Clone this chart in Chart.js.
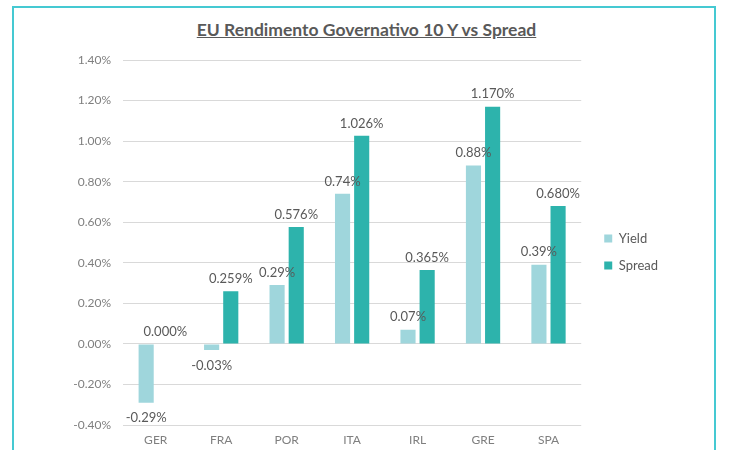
<!DOCTYPE html>
<html>
<head>
<meta charset="utf-8">
<script src="https://cdn.jsdelivr.net/npm/chart.js@4.4.0/dist/chart.umd.min.js"></script>
<style>
  body { margin: 0; background: #fff; overflow: hidden; }
  #wrap { position: relative; width: 731px; height: 450px; }
  #cornice { position: absolute; left: 12px; top: 6px; width: 700px; height: 500px; border: 2px solid #45c9d2; }
  #titolo { position: absolute; left: 0; top: 19px; width: 733px; text-align: center;
    font: bold 17.5px Lato, sans-serif; color: #595959; text-decoration: underline; }
  #box { position: absolute; left: 0; top: 0; width: 731px; height: 450px; }
</style>
</head>
<body>
<div id="wrap">
  <div id="cornice"></div>
  <div id="titolo">EU Rendimento Governativo 10 Y vs Spread</div>
  <div id="box"><canvas id="grafico"></canvas></div>
</div>
<script>
// dati
const paesi = ['GER', 'FRA', 'POR', 'ITA', 'IRL', 'GRE', 'SPA'];
const yieldVal = [-0.29, -0.03, 0.29, 0.74, 0.07, 0.88, 0.39];
const spreadVal = [0.000, 0.259, 0.576, 1.026, 0.365, 1.170, 0.680];
const tickY = [-0.4, -0.2, 0, 0.2, 0.4, 0.6, 0.8, 1.0, 1.2, 1.4];
const decimali = [2, 3];

// etichette sopra le barre
const etichette = {
  id: 'etichette',
  afterDatasetsDraw(chart) {
    const ctx = chart.ctx;
    ctx.save();
    ctx.font = '13px Lato, sans-serif';
    ctx.fillStyle = '#595959';
    ctx.textAlign = 'center';
    chart.data.datasets.forEach((ds, i) => {
      const meta = chart.getDatasetMeta(i);
      meta.data.forEach((bar, j) => {
        const v = ds.data[j];
        const txt = v.toFixed(decimali[i]) + '%';
        if (v < 0) {
          ctx.textBaseline = 'top';
          ctx.fillText(txt, bar.x, bar.y + 9);
        } else {
          ctx.textBaseline = 'bottom';
          ctx.fillText(txt, bar.x, bar.y - 6);
        }
      });
    });
    ctx.restore();
  }
};

// sposto un po la legenda
const spostaLegenda = {
  id: 'spostaLegenda',
  afterLayout(chart) {
    chart.legend.left += 9;
    chart.legend.right += 9;
    chart.legend.top -= 3;
    chart.legend.bottom -= 3;
  }
};

const ctx = document.getElementById('grafico').getContext('2d');
const grafico = new Chart(ctx, {
  type: 'bar',
  data: {
    labels: paesi,
    datasets: [
      { label: 'Yield', data: yieldVal, backgroundColor: '#9fd6dc', barPercentage: 0.79, categoryPercentage: 0.585 },
      { label: 'Spread', data: spreadVal, backgroundColor: '#2db3ac', barPercentage: 0.79, categoryPercentage: 0.585 }
    ]
  },
  options: {
    responsive: true,
    maintainAspectRatio: false,
    animation: false,
    layout: { padding: { top: 60, bottom: 0, left: 0, right: 72 } },
    plugins: {
      legend: {
        position: 'right',
        labels: { boxWidth: 8, boxHeight: 8, padding: 14, color: '#595959', font: { family: 'Lato', size: 13 } }
      },
      tooltip: { enabled: false }
    },
    scales: {
      x: {
        grid: { display: false, drawTicks: false },
        border: { display: false },
        ticks: { color: '#7f7f7f', padding: 8, font: { family: 'Lato', size: 12 } },
        afterFit(s) { s.height = 25; }
      },
      y: {
        min: -0.4,
        max: 1.4,
        afterBuildTicks(s) { s.ticks = tickY.map(v => ({ value: v })); },
        grid: { color: '#d9d9d9', drawTicks: false },
        border: { display: false },
        ticks: {
          color: '#7f7f7f', padding: 12, font: { family: 'Lato', size: 12 },
          callback: v => v.toFixed(2) + '%'
        },
        afterFit(s) { s.width = 123; }
      }
    }
  },
  plugins: [etichette, spostaLegenda]
});
</script>
</body>
</html>
